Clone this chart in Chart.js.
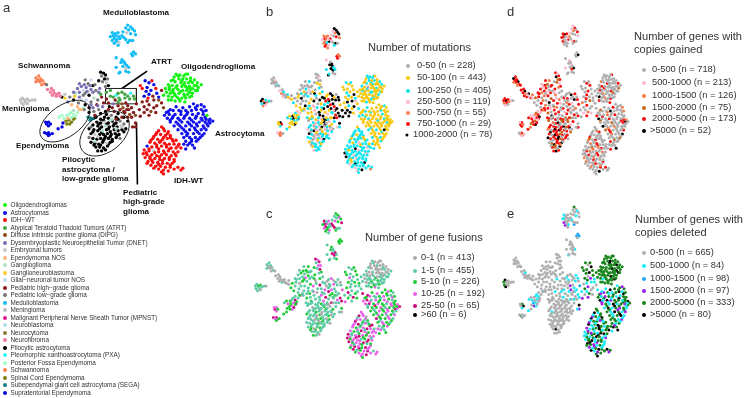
<!DOCTYPE html>
<html>
<head>
<meta charset="utf-8">
<script src="https://cdn.jsdelivr.net/npm/chart.js@4/dist/chart.umd.min.js"></script>
<style>
  html, body { margin: 0; background: #fff; }
  #page { position: relative; width: 744px; height: 398px; overflow: hidden; font-family: "Liberation Sans", Arial, sans-serif; color: #333; filter: blur(0.35px); }
  #page canvas { position: absolute; }
  .t { position: absolute; white-space: pre; line-height: 1; transform: translateY(-50%); }
  .b { font-weight: bold; font-size: 8.1px; color: #111; }
  .dot { position: absolute; border-radius: 50%; transform: translate(-50%, -50%); }
</style>
</head>
<body>
<div id="page"></div>
<script>
// tumor types in panel a, letters A-Z index into these
const typeNames = ['Oligodendrogliomas', 'Astrocytomas', 'IDH−WT', 'Atypical Teratoid Thadoid Tumors (ATRT)', 'Diffuse intrinsic pontine glioma (DIPG)', 'Dysembryoplastic Neuroepithelial Tumor (DNET)', 'Embryonal tumors', 'Ependymoma NOS', 'Ganglioglioma', 'Ganglioneuroblastoma', 'Glial−neuronal tumor NOS', 'Pediatric high−grade glioma', 'Pediatric low−grade glioma', 'Medulloblastoma', 'Meningioma', 'Malignant Peripheral Nerve Sheath Tumor (MPNST)', 'Neuroblastoma', 'Neurocytoma', 'Neurofibroma', 'Pilocytic astrocytoma', 'Pleomorphic xanthoastrocytoma (PXA)', 'Posterior Fossa Ependymoma', 'Schwannoma', 'Spinal Cord Ependymoma', 'Subependymal giant cell astrocytoma (SEGA)', 'Supratentorial Ependymoma'];
const typeColors = ['#12f212', '#1010ee', '#f80e0e', '#45a545', '#8a4a1c', '#7a70b5', '#c9c9c9', '#fbb67c', '#aee0c6', '#fccb2e', '#c9d5ea', '#861c1c', '#777777', '#12bdf5', '#bdbdbd', '#e8189a', '#aee0ec', '#8b7b3c', '#ee7a9c', '#000000', '#33f5f5', '#a6fcc8', '#f97f52', '#808010', '#0a8080', '#0808e0'];

const mutationLabels = ['0-50 (n = 228)', '50-100 (n = 443)', '100-250 (n = 405)', '250-500 (n = 119)', '500-750 (n = 55)', '750-1000 (n = 29)', '1000-2000 (n = 78)'];
const mutationColors = ['#acacac', '#fcc912', '#10e6f0', '#fbb9cc', '#f77c52', '#f60f0f', '#000000'];
const fusionLabels = ['0-1 (n = 413)', '1-5 (n = 455)', '5-10 (n = 226)', '10-25 (n = 192)', '25-50 (n = 65)', '>60 (n = 6)'];
const fusionColors = ['#acacac', '#5ccba6', '#22cc38', '#ea62ea', '#c80a78', '#000000'];
const gainedLabels = ['0-500 (n = 718)', '500-1000 (n = 213)', '1000-1500 (n = 126)', '1500-2000 (n = 75)', '2000-5000 (n = 173)', '>5000 (n = 52)'];
const gainedColors = ['#b0b0b0', '#fbb9cc', '#f77c4c', '#c8681c', '#f60f0f', '#000000'];
const deletedLabels = ['0-500 (n = 665)', '500-1000 (n = 84)', '1000-1500 (n = 98)', '1500-2000 (n = 97)', '2000-5000 (n = 333)', '>5000 (n = 80)'];
const deletedColors = ['#b0b0b0', '#1cecfa', '#1fa8fa', '#9a20ea', '#1a861f', '#000000'];

// map positions; strings give the class per point for panels a,b,c,d,e
const medulloPts = [128,22, 131,24, 126,25, 133,26, 129,27, 135,28, 123,29, 127,30, 131,31, 136,32, 112,30, 115,31, 118,30, 113,33, 116,33, 119,34, 122,33, 110,34, 114,36, 117,37, 120,36, 124,35, 112,38, 116,39, 119,40, 126,37, 130,38, 114,41, 118,43, 133,38, 128,40, 134,50, 132,52, 136,52, 133,54, 116,56, 122,58, 124,60, 121,61, 125,62, 127,64, 123,65, 129,66, 126,67, 116,66, 119,72, 126,70, 129,71, 120,71];
const medulloCls = [
  'NNNNN NNGNN NNNNN NNNNN NNNNG NNNNN NNNNN NNNNN NNNGN NNNN',
  '66364 63054 44454 35342 63453 06540 24545 30666 26262 60 02',
  '22131 21324 41343 14242 14323 41211 22222 12121 44141 11 21',
  '14102 41001 45440 12401 40400 14000 00050 01001 00541 00 00',
  '40010 00010 10010 00100 01301 00300 22220 00000 00100 10 00'];
const schwannPts = [33,77, 36,75, 35,79, 38,78, 33,81, 37,81, 40,80, 42,83, 39,84];
const schwannCls = ['WWWWW WWWW', '00030 0020', '11011 0010', '54442 4542', '00000 0000'];
const neurofibPts = [45,89, 49,88, 51,90, 48,92, 52,93, 55,94, 50,95, 54,96, 58,96, 57,93, 60,97, 44,84, 63,98, 63,94];
const neurofibCls = ['SSSSS SSSSS TMJG', '30240 03012 3010', '00000 00100 0000', '44542 14415 4412', '00100 00000 0000'];
const meningPts = [17,100, 19,98, 21,100, 18,103, 22,102, 20,105, 24,99, 26,101, 29,100, 32,100, 24,104];
const meningCls = ['OOOOO OOOOO O', '66426 42420 3', '11211 12110 0', '44524 14210 0', '45040 50000 0'];
const ependPts = [46,123, 44,125, 48,125, 46,127, 43,123, 46,134, 44,135, 47,136, 50,135, 42,134, 46,137, 56,130, 60,128, 61,124, 57,118, 60,116, 62,119, 65,116, 67,115, 69,113, 72,115, 66,119, 70,118, 74,117, 76,113, 78,110, 80,110, 82,108, 72,111, 64,122, 67,121, 70,123, 68,125, 72,120, 65,125, 73,119];
const ependCls = [
  'ZZZZZ ZZZZZ ZZZZ VVVVV VVHVV VHHVI XXXXX XX',
  '61521 44403 4211 21261 21612 31213 12162 16',
  '34233 43324 2222 12321 14232 12311 23432 24',
  '44241 42310 1423 41412 34145 14241 43451 44',
  '40510 04100 0100 10101 11010 00100 21010 30'];
const segaPts = [87,118, 90,119, 93,119, 89,121, 95,117];
const segaCls = ['YYYYY', '21201', '11111', '44030', '00000'];
const topCenterPts = [100,71, 103,72, 101,75, 105,74, 104,78, 107,78, 102,81, 106,82, 108,85, 105,86];
const topCenterCls = ['TTMTT MMGTM', '00030 01102', '43143 31421', '41543 43142', '00000 00000'];
const centerPts = [76,88, 80,86, 83,84, 85,87, 87,83, 89,85, 78,92, 82,90, 86,91, 90,89, 92,85, 95,90, 98,92, 74,93, 100,94, 72,100, 78,97, 82,95, 88,95, 93,98, 97,100, 101,97, 106,99, 96,105, 90,102, 85,100, 102,107, 108,103, 73,96, 70,105, 84,105, 77,103, 92,108, 98,110, 105,112];
const centerCls = [
  'FFFFM FFKFF TMFID TFMTI MLLLM KFLJH TMFMT',
  '00020 02103 01612 06021 60631 02111 60136',
  '12212 21132 11210 10212 31411 10112 11211',
  '41443 02410 40142 00243 41205 02140 24144',
  '00000 00000 00000 00000 01000 00000 00010'];
const centerExtraPts = [88,108, 93,112, 97,106, 103,103, 109,107, 114,112, 111,116, 118,114, 124,112, 94,116, 88,113, 83,110, 106,115, 113,104, 118,102, 100,114, 90,105, 122,118, 116,120, 127,110, 72,92, 68,97, 66,102, 80,100, 76,107, 84,93, 92,92, 99,88, 106,92, 110,90, 94,84, 98,80, 90,79, 84,79, 78,83];
const centerExtraCls = [
  'TMFLT LMTLL TMTFD TFLLL FMFKH MFFDD MTKMF',
  '21302 16321 13622 02163 00201 20012 00200',
  '11311 43112 21131 11412 12211 21221 12211',
  '40340 10405 34002 40401 43020 04400 40241',
  '00000 01000 00000 00100 00000 00000 00000'];
const pilocyticPts = [100,120, 104,118, 108,119, 112,120, 116,118, 96,123, 100,124, 104,123, 108,124, 112,122, 116,124, 120,122, 124,125, 92,126, 97,127, 101,128, 105,127, 109,128, 113,127, 117,128, 121,127, 88,130, 93,131, 97,132, 102,132, 106,131, 110,133, 114,131, 118,132, 122,131, 90,135, 94,136, 99,136, 103,136, 107,135, 111,136, 115,135, 119,136, 88,139, 92,140, 96,141, 100,140, 104,140, 108,140, 112,141, 116,139, 90,144, 94,145, 98,146, 102,144, 106,145, 110,144, 95,149, 99,149, 103,150, 107,148, 97,153, 101,153, 105,152, 120,140, 124,118, 128,122, 126,130];
const pilocyticCls = [
  'TTTIT TTGTT TMMTT TITTT GTTTI TTTTT TGTTT TTTMT TTTTT TTTTT GTTTT TTTTM TTT',
  '12361 23216 03120 23602 13263 01323 62302 21322 03236 21223 22122 23222 120',
  '11211 01112 10211 21011 12110 21120 11012 10211 11211 11201 21111 12100 011',
  '40443 24504 03144 40453 42044 53441 40543 40454 04534 40354 45430 54540 340',
  '00000 00000 00000 00000 00100 00000 00000 00000 00000 00000 00050 00000 000'];
const pilocyticExtraPts = [95,118, 103,121, 110,121, 118,120, 122,128, 98,125, 106,125, 114,125, 90,128, 99,130, 108,130, 116,130, 124,133, 92,133, 101,134, 110,138, 97,138, 105,138, 117,137, 94,143, 103,142, 112,143, 100,147, 108,146, 93,147];
const pilocyticExtraCls = [
  'TTITG TTTMT TITTT TGTTI TTTTT',
  '23120 32620 13201 20323 12210',
  '11101 11211 01111 21011 11212',
  '40345 04045 40354 04540 40320',
  '00000 00000 00000 00000 00000'];
const atrtPts = [110,96, 113,97, 116,95, 119,98, 122,92, 125,94, 128,96, 131,93, 134,96, 120,100, 125,98, 130,99, 115,100, 135,99, 118,93];
const atrtCls = ['DDUDD DDUDD DDLDD', '66156 61066 66561', '11013 01101 31011', '04040 50400 05040', '00110 00110 01000'];
const phggPts = [108,110, 112,108, 118,106, 122,104, 126,103, 128,106, 123,108, 129,110, 132,108, 134,113, 130,115, 132,118, 128,118, 136,116, 125,113, 120,110, 141,117, 145,113, 148,110, 152,112, 155,108, 158,106, 150,105, 145,107, 143,102, 148,101, 155,100, 160,100, 163,103, 157,113, 150,116, 165,108, 137,104, 140,110, 133,128, 136,128, 136,124];
const phggCls = [
  'LLLEL LELLL ELLEL LLLLE LLLLL LLELL LELLL LL',
  '16656 56666 55662 16666 16211 66311 62163 26',
  '31431 12114 31141 23214 21142 11112 14311 02',
  '04041 00020 40040 40102 00402 03001 40400 40',
  '11030 13111 00110 13014 00340 11100 31211 35'];
const upperMidPts = [141,85, 146,80, 150,82, 153,80, 155,84, 148,87, 143,88, 147,91, 152,90, 157,88, 150,94, 154,96, 158,93, 145,96, 149,98, 160,97, 163,90];
const upperMidCls = ['CZZCB ZCZBC ZLBZC BL', '12121 11211 21611 21', '21122 12312 12121 21', '00404 00040 40004 00', '44045 44454 03444 14'];
const oligoPts = [178,73, 182,74, 186,75, 190,73, 176,76, 181,78, 185,78, 189,78, 193,77, 197,79, 173,80, 177,81, 183,82, 187,82, 191,82, 195,82, 200,82, 204,84, 170,84, 174,85, 179,85, 184,86, 188,86, 192,86, 197,85, 201,87, 167,88, 171,89, 175,89, 180,89, 185,90, 189,90, 193,89, 198,90, 168,92, 172,93, 176,93, 181,93, 186,94, 190,94, 195,93, 170,96, 174,97, 179,97, 184,98, 188,98, 192,97, 173,100, 177,101, 182,101, 187,102, 165,95];
const oligoCls = [
  'AAAAA AAAAA AAAAA AAAAA AAAAA AAAAA AAAAA AAAAA AAAAA AAAAA AA',
  '22211 21212 12121 12121 01121 11211 21121 11111 21112 11121 11',
  '10000 01000 10000 10110 10000 11101 01010 11121 10111 21123 11',
  '00040 00000 20400 04004 00000 30400 04000 02000 05020 40000 40',
  '44444 45444 44444 54444 44544 44444 44454 44454 44144 45444 44'];
const oligoExtraPts = [180,75, 188,73, 175,79, 184,80, 193,80, 199,85, 171,87, 178,87, 186,84, 190,88, 195,88, 174,91, 183,91, 192,92, 200,90, 177,95, 187,96, 194,96, 170,100, 181,99];
const oligoExtraCls = [
  'AAAAA AAAAA AAAAA AAAAA',
  '22121 11211 11211 12111',
  '10001 00001 11211 21112',
  '00000 00400 00030 00040',
  '44454 44444 54444 44444'];
const astroPts = [196,104, 200,106, 204,105, 207,107, 192,107, 185,108, 178,107, 172,110, 168,113, 175,111, 181,111, 188,111, 194,111, 199,110, 204,110, 209,111, 166,116, 171,115, 177,115, 183,115, 189,115, 195,115, 201,114, 206,115, 210,116, 169,119, 174,119, 180,119, 186,119, 192,119, 198,119, 204,119, 209,120, 213,120, 172,123, 178,123, 184,123, 190,123, 196,123, 202,123, 208,123, 213,124, 216,122, 176,127, 182,127, 188,127, 194,127, 200,127, 206,127, 211,127, 180,131, 186,131, 192,131, 198,131, 204,131, 209,131, 184,135, 190,135, 196,135, 202,135, 207,135, 186,139, 192,139, 198,139, 203,139, 188,143, 194,143, 199,143, 190,147, 195,147, 188,151];
const astroCls = [
  'BBBBB BBBBB BBBBB BBBBB BBBBA BBBBB BBBBB BBBBB BBBBB BBBBB BBBBB BBBBB BBBBB BBBBB B',
  '11211 12112 11121 12211 11211 11211 12111 11111 21111 11111 21216 11111 12121 11211 2',
  '23212 32423 12321 23413 23212 34232 13231 22312 23421 32321 23212 34223 12321 12331 2',
  '00024 00300 05000 24002 04000 50040 00420 00300 40050 02000 34000 40200 50003 40000 4',
  '14344 51143 41451 44134 41144 51534 41453 41514 34415 14341 41541 34145 14413 41454 1'];
const astroExtraPts = [198,108, 206,112, 183,112, 170,112, 190,113, 175,117, 187,117, 199,117, 208,118, 172,121, 182,121, 194,121, 205,121, 212,122, 180,125, 192,125, 199,125, 210,125, 184,129, 197,129, 207,129, 188,133, 200,133, 205,137, 189,137, 194,141, 201,141, 192,145, 197,150, 186,146];
const astroExtraCls = [
  'BBBBB BBBBB BBBBB BBBBB BBBBB BBBBB',
  '11211 21111 12111 11121 11211 11112',
  '23121 32321 42321 23423 12321 32123',
  '00200 40003 00450 00020 04000 30050',
  '45134 41543 14414 54143 41514 41354'];
const idhPts = [163,128, 160,132, 166,132, 170,133, 157,136, 162,136, 167,137, 172,137, 154,140, 159,141, 164,141, 169,140, 174,141, 178,142, 151,144, 156,145, 161,144, 166,145, 171,146, 176,146, 181,146, 148,148, 153,149, 158,149, 163,148, 168,149, 173,150, 178,150, 183,150, 145,152, 150,153, 155,153, 160,154, 165,153, 170,153, 175,154, 180,154, 144,156, 148,157, 153,157, 158,158, 163,157, 168,157, 173,158, 178,158, 146,160, 151,161, 156,161, 161,162, 166,161, 171,162, 176,162, 149,164, 154,165, 159,165, 164,166, 169,166, 174,166, 180,170, 185,171, 152,168, 157,169, 162,169, 167,170, 172,170, 160,172, 165,173, 170,174, 165,177, 176,172, 183,173];
const idhCls = [
  'CCCCC CCCCC CCCCC CCCCC CBCCC CCCCC CGCCC CCCCC CCCCC CCCCC CCCCC CCCCC CCCCC CCCCC C',
  '12222 12212 22122 12322 12222 22322 12232 22622 32222 62232 22212 22622 32222 32622 4',
  '34303 31234 13243 21343 13214 32334 13432 33423 31243 42334 12343 24313 41234 33423 3',
  '00240 00030 40000 20400 00030 24000 42000 20004 00400 20040 00200 40040 02004 00500 0',
  '45143 41514 43145 14541 43144 51451 43415 54141 45413 14514 41543 14154 31454 13454 3'];
const idhExtraPts = [165,130, 158,134, 169,135, 155,138, 165,139, 172,139, 152,142, 162,143, 175,143, 158,147, 168,147, 180,148, 150,151, 160,151, 171,151, 147,155, 156,155, 166,155, 177,156, 151,159, 161,159, 171,160, 153,163, 164,163, 176,164, 148,166, 160,167, 172,168, 163,175, 155,171];
const idhExtraCls = [
  'CCCCC CCCCC CCCCC CCCCC CCCCC CCCCC',
  '22222 12322 12262 22232 22122 26232',
  '31342 13243 13123 34213 34123 24332',
  '00040 02000 40020 00400 20004 00200',
  '41451 43141 54314 14514 14531 43145'];

const clusterPts = [medulloPts, schwannPts, neurofibPts, meningPts, ependPts, segaPts, topCenterPts, centerPts, centerExtraPts, pilocyticPts, pilocyticExtraPts, atrtPts, phggPts, upperMidPts, oligoPts, oligoExtraPts, astroPts, astroExtraPts, idhPts, idhExtraPts];
const clusterCls = [medulloCls, schwannCls, neurofibCls, meningCls, ependCls, segaCls, topCenterCls, centerCls, centerExtraCls, pilocyticCls, pilocyticExtraCls, atrtCls, phggCls, upperMidCls, oligoCls, oligoExtraCls, astroCls, astroExtraCls, idhCls, idhExtraCls];

// annotation shapes in panel a, same coordinates as the points
const atrtBoxX = [105, 137, 137, 105, 105];
const atrtBoxY = [88, 88, 104, 104, 88];
const atrtLeaderX = [148, 122];
const atrtLeaderY = [70, 88];
const phggLeaderX = [137, 138];
const phggLeaderY = [123, 188];
const segaLineX = [87, 91, 96];
const segaLineY = [117, 120, 118];
const ellipses = [[63, 122, 29.5, 16.5, -35], [104, 135, 29, 19, -38]];

const page = document.getElementById('page');

function addText(str, x, y, size, cls) {
  const el = document.createElement('div');
  el.className = 't ' + (cls || '');
  el.textContent = str;
  el.style.left = x + 'px';
  el.style.top = y + 'px';
  if (size) el.style.fontSize = size + 'px';
  page.appendChild(el);
}

function addDot(x, y, r, color) {
  const el = document.createElement('div');
  el.className = 'dot';
  el.style.left = x + 'px';
  el.style.top = y + 'px';
  el.style.width = el.style.height = (r * 2) + 'px';
  el.style.background = color;
  page.appendChild(el);
}

const ellipsePlugin = {
  id: 'ellipses',
  afterDatasetsDraw(chart, args, opts) {
    if (!opts.list) return;
    const { ctx, scales: { x, y } } = chart;
    opts.list.forEach(([cx, cy, a, b, deg]) => {
      ctx.save();
      ctx.beginPath();
      ctx.ellipse(x.getPixelForValue(cx), y.getPixelForValue(cy), a * (x.width / 240), b * (y.height / 200), deg * Math.PI / 180, 0, Math.PI * 2);
      ctx.strokeStyle = '#222';
      ctx.lineWidth = 1;
      ctx.stroke();
      ctx.restore();
    });
  }
};

function classOf(strs, panel) {
  return strs[panel].replace(/ /g, '');
}

function pointsByClass(panel, n, toIndex) {
  const groups = Array.from({ length: n }, () => []);
  clusterPts.forEach((pts, c) => {
    const codes = classOf(clusterCls[c], panel);
    for (let i = 0; i < pts.length / 2; i++) {
      const code = codes[i] || codes[0];
      groups[toIndex(code)].push({ x: pts[i * 2], y: pts[i * 2 + 1] });
    }
  });
  return groups;
}

function drawPanel(cfg) {
  const canvas = document.createElement('canvas');
  canvas.style.left = cfg.left + 'px';
  canvas.style.top = cfg.top + 'px';
  canvas.width = cfg.width;
  canvas.height = cfg.height;
  page.appendChild(canvas);

  const groups = pointsByClass(cfg.panel, cfg.colors.length, cfg.toIndex);
  const datasets = groups.map((data, i) => ({
    label: cfg.names[i],
    data: data,
    backgroundColor: cfg.colors[i],
    borderWidth: 0,
    pointRadius: cfg.radius,
    showLine: false
  }));
  (cfg.lines || []).forEach(l => {
    datasets.push({
      data: l.xs.map((x, i) => ({ x: x, y: l.ys[i] })),
      borderColor: l.color,
      borderWidth: l.width,
      pointRadius: 0,
      showLine: true,
      tension: 0
    });
  });

  new Chart(canvas, {
    type: 'scatter',
    data: { datasets: datasets },
    plugins: [ellipsePlugin],
    options: {
      responsive: false,
      animation: false,
      events: [],
      layout: { padding: 0 },
      plugins: { legend: { display: false }, tooltip: { enabled: false }, ellipses: { list: cfg.ellipses } },
      scales: {
        x: { type: 'linear', min: 0, max: 240, display: false },
        y: { type: 'linear', min: 0, max: 200, reverse: true, display: false }
      }
    }
  });
}

const digit = c => Number(c);
const letter = c => c.charCodeAt(0) - 65;

drawPanel({
  panel: 0, left: 0, top: 0, width: 240, height: 200, radius: 1.7,
  names: typeNames, colors: typeColors, toIndex: letter, ellipses: ellipses,
  lines: [
    { xs: atrtBoxX, ys: atrtBoxY, color: '#222', width: 1 },
    { xs: atrtLeaderX, ys: atrtLeaderY, color: '#000', width: 1.6 },
    { xs: phggLeaderX, ys: phggLeaderY, color: '#000', width: 1.6 },
    { xs: segaLineX, ys: segaLineY, color: '#0a8080', width: 2 }
  ]
});
drawPanel({ panel: 1, left: 246, top: 4, width: 166, height: 194, radius: 1.5, names: mutationLabels, colors: mutationColors, toIndex: digit });
drawPanel({ panel: 2, left: 239, top: 189, width: 182, height: 194, radius: 1.5, names: fusionLabels, colors: fusionColors, toIndex: digit });
drawPanel({ panel: 3, left: 489, top: 1, width: 158, height: 199, radius: 1.5, names: gainedLabels, colors: gainedColors, toIndex: digit });
drawPanel({ panel: 4, left: 489, top: 182, width: 160, height: 200, radius: 1.5, names: deletedLabels, colors: deletedColors, toIndex: digit });

// panel letters
addText('a', 3, 7, 13);
addText('b', 266, 11, 13);
addText('c', 266, 213, 13);
addText('d', 507, 11, 13);
addText('e', 507, 213, 13);

// panel a labels
addText('Medulloblastoma', 103, 13, 0, 'b');
addText('Schwannoma', 18, 66, 0, 'b');
addText('ATRT', 151, 62, 0, 'b');
addText('Oligodendroglioma', 181, 67, 0, 'b');
addText('Meningioma', 2, 109, 0, 'b');
addText('Astrocytoma', 215, 134, 0, 'b');
addText('Ependymoma', 16, 146, 0, 'b');
addText('Pilocytic', 62, 160, 0, 'b');
addText('astrocytoma /', 62, 170, 0, 'b');
addText('low-grade glioma', 62, 179, 0, 'b');
addText('IDH-WT', 174, 181, 0, 'b');
addText('Pediatric', 123, 193, 0, 'b');
addText('high-grade', 123, 202, 0, 'b');
addText('glioma', 123, 212, 0, 'b');

// panel a legend
typeNames.forEach((name, i) => {
  const y = 205 + i * 7.5;
  addDot(4.7, y, 2, typeColors[i]);
  addText(name, 10.5, y, 6.35);
});

const legendFont = 9.3;
const titleFont = 11.1;
addText('Number of mutations', 368, 48, titleFont);
mutationLabels.forEach((s, i) => {
  const y = [66, 78, 91, 102, 113, 124, 135][i];
  addDot(i === 6 ? 407 : 408, y, i === 6 ? 1.6 : 2, mutationColors[i]);
  addText(s, i === 6 ? 413 : 417, y, legendFont);
});
addText('Number of gene fusions', 365, 238, titleFont);
fusionLabels.forEach((s, i) => {
  const y = [258, 271, 282, 294, 306, 315][i];
  addDot(415, y, 2, fusionColors[i]);
  addText(s, 421, y, legendFont);
});
addText('Number of genes with', 634, 37, titleFont);
addText('copies gained', 634, 50, titleFont);
gainedLabels.forEach((s, i) => {
  const y = [70, 83, 96, 108, 119, 131][i];
  addDot(644, y, 2, gainedColors[i]);
  addText(s, i === 5 ? 650 : 652, y, legendFont);
});
addText('Number of genes with', 635, 220, titleFont);
addText('copies deleted', 635, 233, titleFont);
deletedLabels.forEach((s, i) => {
  const y = [253, 266, 279, 291, 303, 315][i];
  addDot(644, y, 2, deletedColors[i]);
  addText(s, 650, y, legendFont);
});
</script>
</body>
</html>
